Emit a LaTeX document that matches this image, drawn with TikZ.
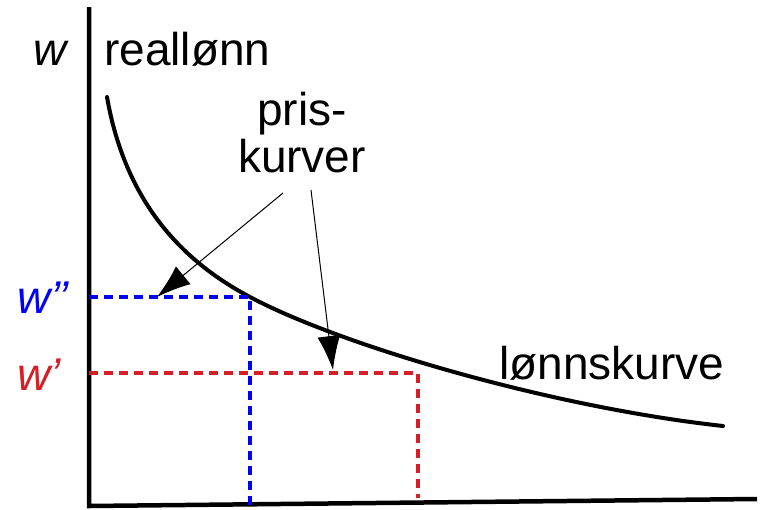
\documentclass[tikz,border=0pt]{standalone}
\usepackage{fontspec}
\setmainfont{Liberation Sans}
\usetikzlibrary{arrows.meta}
\definecolor{prisblue}{RGB}{0, 0, 245}
\definecolor{prisred}{RGB}{213, 30, 38}

\begin{document}
\begin{tikzpicture}[x=1pt, y=-1pt, font=\fontsize{46}{52}\selectfont,
    lbl/.style={anchor=base west, inner sep=0pt},
    pil/.style={-{Latex[length=34pt, width=23pt]}, line width=1pt},
    hjelp/.style={dash pattern=on 9pt off 6pt, line width=3.6pt}]
\useasboundingbox (0,0) rectangle (763,509);
% axes
\draw[line width=4.5pt] (89,7) -- (89,506) -- (757,499);
% wage curve
\draw[line width=4pt, line cap=round] (107,97) .. controls (125,200) and (180,260) .. (250,297)
    .. controls (340,345) and (550,407) .. (723,426);
% dashed guides
\draw[hjelp, prisblue] (89,297) -- (250,297) -- (250,506);
\draw[hjelp, prisred] (89,373) -- (418,373) -- (418,498);
% labels
\node[lbl] (wakse) at (33,65) {\itshape w};
\node[lbl] (real) at (104,65) {reallønn};
\node[anchor=base, inner sep=0pt] (pris) at (302,125) {pris-};
\node[anchor=base, inner sep=0pt] (kurver) at (302,172) {kurver};
\node[lbl, prisblue] (wto) at (17,313) {\itshape w’’};
\node[lbl, prisred] (wen) at (17,390) {\itshape w’};
\node[lbl] (lonn) at (499,379) {lønnskurve};
% arrows from the label
\coordinate (fraa) at (283,193);
\coordinate (frab) at (311,190);
\coordinate (tila) at (157,297);
\coordinate (tilb) at (333,370);
\draw[pil] (fraa) -- (tila);
\draw[pil] (frab) -- (tilb);
\end{tikzpicture}
\end{document}
